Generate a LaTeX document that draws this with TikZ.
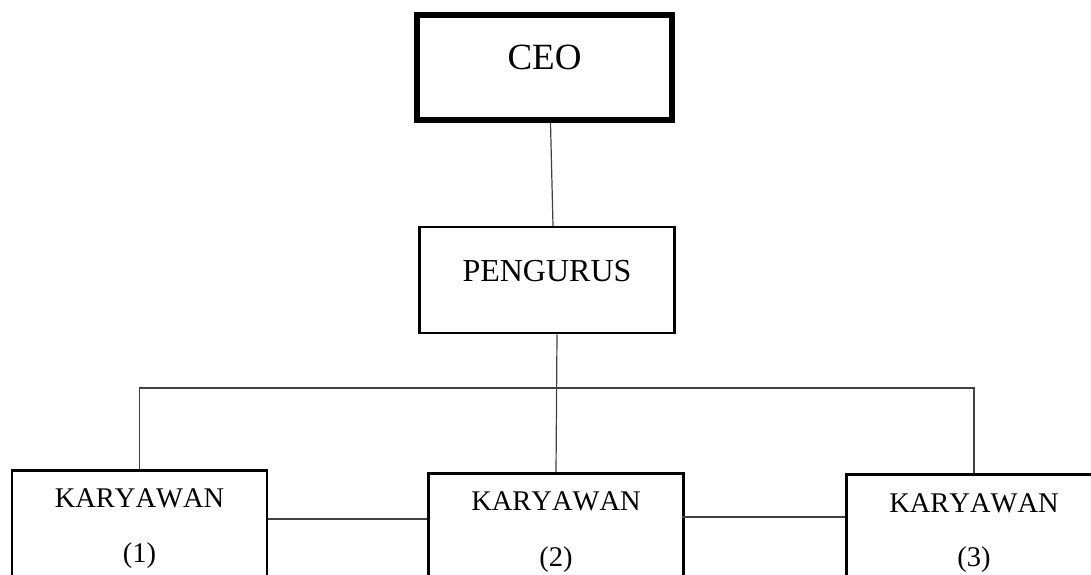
\documentclass[tikz,border=0pt]{standalone}
\usepackage{fontspec}
\setmainfont{Liberation Serif}[Kerning=Off]
\usepackage{tikz}

\begin{document}
\begin{tikzpicture}[x=1pt,y=-1pt]
	\useasboundingbox (0,0) rectangle (1091,574);
	\clip (0,0) rectangle (1091,574);
	\begin{scope}[every node/.style = {rectangle, draw, line width=2.5pt,
			minimum width=255pt, minimum height=106pt, inner sep=0pt}]
		\node[line width=6pt, minimum height=105pt] (ceo) at (544.5,67.5) {};
		\node (pengurus) at (547,280) {};
		\node[minimum height=130pt, anchor=north] (k1) at (139.5,469) {};
		\node[minimum height=130pt, anchor=north] (k2) at (556,472) {};
		\node[minimum height=130pt, anchor=north] (k3) at (974,473) {};
	\end{scope}
	\begin{scope}[every node/.style = {anchor=base, inner sep=0pt,
			font=\fontsize{28.5}{34}\selectfont}]
		\node[font=\fontsize{37}{44}\selectfont] (ceotext) at (544.5,69) {CEO};
		\node[font=\fontsize{32}{38}\selectfont] (pengurustext) at (547,281) {PENGURUS};
		\node (k1a) at ([yshift=-38pt]k1.north) {KARYAWAN};
		\node (k1b) at ([yshift=-93pt]k1.north) {(1)};
		\node (k2a) at ([yshift=-38pt]k2.north) {KARYAWAN};
		\node (k2b) at ([yshift=-94pt]k2.north) {(2)};
		\node (k3a) at ([yshift=-39pt]k3.north) {KARYAWAN};
		\node (k3b) at ([yshift=-93pt]k3.north) {(3)};
	\end{scope}
	\coordinate (bus) at (556,388);
	\begin{scope}[every edge/.style={draw=black!75, line width=1.2pt}]
		\path [-] ([xshift=6pt]ceo.south) edge ([xshift=6pt]pengurus.north);
		\path [-] ([xshift=10pt]pengurus.south) edge (k2.north);
		\path [-] ([yshift=-50pt]k1.north east) edge ([yshift=-47pt]k2.north west);
		\path [-] ([xshift=-3pt,yshift=-45pt]k2.north east) edge ([yshift=-44pt]k3.north west);
	\end{scope}
	\draw[black!75, line width=1.2pt] (k1.north) |- (bus) -| (k3.north);
\end{tikzpicture}
\end{document}
